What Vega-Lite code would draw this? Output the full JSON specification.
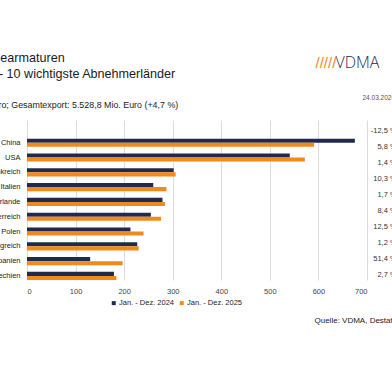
{
  "$schema": "https://vega.github.io/schema/vega-lite/v6.json",
  "width": 340,
  "height": 160,
  "autosize": {"type": "none"},
  "padding": {"left": 27, "top": 120, "right": 25, "bottom": 112},
  "config": {"view": {"stroke": null}, "font": "Liberation Sans"},
  "title": {
    "text": ["Industriearmaturen", "Export - 10 wichtigste Abnehmerländer"],
    "subtitle": "in Mio. Euro; Gesamtexport: 5.528,8 Mio. Euro (+4,7 %)",
    "anchor": "start",
    "frame": "group",
    "dx": -68,
    "dy": 60,
    "fontSize": 12.6,
    "fontWeight": "normal",
    "lineHeight": 16,
    "color": "#1a1a1a",
    "subtitleFontSize": 8.9,
    "subtitleColor": "#222222",
    "subtitlePadding": 21
  },
  "datasets": {
    "bars": [
      {"land": "China", "zeitraum": "Jan. - Dez. 2024", "wert": 675},
      {"land": "China", "zeitraum": "Jan. - Dez. 2025", "wert": 591},
      {"land": "USA", "zeitraum": "Jan. - Dez. 2024", "wert": 541},
      {"land": "USA", "zeitraum": "Jan. - Dez. 2025", "wert": 572},
      {"land": "Frankreich", "zeitraum": "Jan. - Dez. 2024", "wert": 302},
      {"land": "Frankreich", "zeitraum": "Jan. - Dez. 2025", "wert": 306},
      {"land": "Italien", "zeitraum": "Jan. - Dez. 2024", "wert": 260},
      {"land": "Italien", "zeitraum": "Jan. - Dez. 2025", "wert": 287},
      {"land": "Niederlande", "zeitraum": "Jan. - Dez. 2024", "wert": 279},
      {"land": "Niederlande", "zeitraum": "Jan. - Dez. 2025", "wert": 284},
      {"land": "Österreich", "zeitraum": "Jan. - Dez. 2024", "wert": 255},
      {"land": "Österreich", "zeitraum": "Jan. - Dez. 2025", "wert": 276},
      {"land": "Polen", "zeitraum": "Jan. - Dez. 2024", "wert": 213},
      {"land": "Polen", "zeitraum": "Jan. - Dez. 2025", "wert": 240},
      {"land": "Vereinigtes Königreich", "zeitraum": "Jan. - Dez. 2024", "wert": 227},
      {"land": "Vereinigtes Königreich", "zeitraum": "Jan. - Dez. 2025", "wert": 230},
      {"land": "Spanien", "zeitraum": "Jan. - Dez. 2024", "wert": 130},
      {"land": "Spanien", "zeitraum": "Jan. - Dez. 2025", "wert": 197},
      {"land": "Tschechien", "zeitraum": "Jan. - Dez. 2024", "wert": 179},
      {"land": "Tschechien", "zeitraum": "Jan. - Dez. 2025", "wert": 184}
    ],
    "pct": [
      {"land": "China", "veraenderung": "-12,5 %"},
      {"land": "USA", "veraenderung": "5,8 %"},
      {"land": "Frankreich", "veraenderung": "1,4 %"},
      {"land": "Italien", "veraenderung": "10,3 %"},
      {"land": "Niederlande", "veraenderung": "1,7 %"},
      {"land": "Österreich", "veraenderung": "8,4 %"},
      {"land": "Polen", "veraenderung": "12,5 %"},
      {"land": "Vereinigtes Königreich", "veraenderung": "1,2 %"},
      {"land": "Spanien", "veraenderung": "51,4 %"},
      {"land": "Tschechien", "veraenderung": "2,7 %"}
    ]
  },
  "layer": [
    {
      "data": {"name": "bars"},
      "mark": {"type": "bar"},
      "encoding": {
        "y": {
          "field": "land",
          "type": "nominal",
          "sort": ["China", "USA", "Frankreich", "Italien", "Niederlande", "Österreich", "Polen", "Vereinigtes Königreich", "Spanien", "Tschechien"],
          "scale": {"paddingInner": 0.45, "paddingOuter": 0.63, "align": 1},
          "axis": {
            "ticks": false,
            "domain": false,
            "grid": false,
            "labelFontSize": 7.5,
            "labelColor": "#222222",
            "labelPadding": 7,
            "title": "24.03.2026",
            "titleAngle": 0,
            "titleX": 335,
            "titleY": -21,
            "titleAlign": "left",
            "titleBaseline": "alphabetic",
            "titleFontSize": 6.5,
            "titleFontWeight": "normal",
            "titleColor": "#555555"
          }
        },
        "yOffset": {
          "field": "zeitraum",
          "type": "nominal",
          "scale": {"paddingInner": 0, "paddingOuter": 0}
        },
        "x": {
          "field": "wert",
          "type": "quantitative",
          "scale": {"domain": [0, 700], "nice": false},
          "axis": {
            "values": [0, 100, 200, 300, 400, 500, 600, 700],
            "ticks": false,
            "tickSize": 0,
            "domain": false,
            "grid": true,
            "gridColor": "#dcdcdc",
            "labelFontSize": 7.5,
            "labelColor": "#444444",
            "labelPadding": 7,
            "title": "Quelle: VDMA, Destatis",
            "titleX": 287,
            "titleY": 42,
            "titleAlign": "left",
            "titleBaseline": "alphabetic",
            "titleFontSize": 8,
            "titleFontWeight": "normal",
            "titleColor": "#222222"
          }
        },
        "color": {
          "field": "zeitraum",
          "type": "nominal",
          "scale": {"domain": ["Jan. - Dez. 2024", "Jan. - Dez. 2025"], "range": ["#1f2a4e", "#f08a1c"]},
          "legend": {
            "orient": "none",
            "legendX": 83,
            "legendY": 179,
            "direction": "horizontal",
            "title": null,
            "symbolType": "square",
            "symbolSize": 16,
            "symbolStrokeWidth": 0,
            "labelFontSize": 7.5,
            "labelOffset": 1.5,
            "columnPadding": 3,
            "labelColor": "#222222"
          }
        }
      }
    },
    {
      "data": {"name": "pct"},
      "mark": {"type": "text", "align": "right", "baseline": "middle", "fontSize": 7.5, "color": "#333333"},
      "encoding": {
        "y": {
          "field": "land",
          "type": "nominal",
          "sort": ["China", "USA", "Frankreich", "Italien", "Niederlande", "Österreich", "Polen", "Vereinigtes Königreich", "Spanien", "Tschechien"],
          "scale": {"paddingInner": 0, "paddingOuter": 0.625, "align": 0.67},
          "axis": {
            "orient": "right",
            "labels": false,
            "ticks": false,
            "domain": false,
            "grid": false,
            "title": "/////",
            "titleAngle": 0,
            "titleX": -52,
            "titleY": -53,
            "titleAlign": "left",
            "titleBaseline": "alphabetic",
            "titleFontSize": 15,
            "titleFontWeight": "normal",
            "titleColor": "#f08a1c"
          }
        },
        "x": {
          "datum": 761,
          "type": "quantitative",
          "scale": {"domain": [0, 700], "nice": false},
          "axis": {
            "orient": "top",
            "labels": false,
            "ticks": false,
            "domain": false,
            "grid": false,
            "title": "VDMA",
            "titleX": 308,
            "titleY": -53,
            "titleAlign": "left",
            "titleBaseline": "alphabetic",
            "titleFont": "Open Sans",
            "titleFontSize": 16,
            "titleFontWeight": 300,
            "titleColor": "#1f2a4e"
          }
        },
        "text": {"field": "veraenderung"}
      }
    }
  ],
  "resolve": {"scale": {"y": "independent"}, "axis": {"x": "independent", "y": "independent"}}
}
